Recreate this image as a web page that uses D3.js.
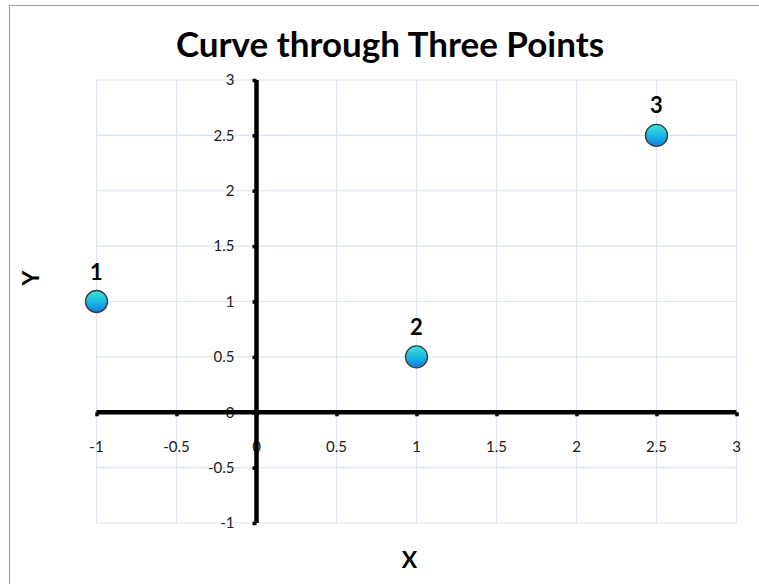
<!DOCTYPE html>
<html>
<head>
<meta charset="utf-8">
<script src="https://d3js.org/d3.v7.min.js"></script>
<style>
  html, body { margin: 0; padding: 0; background: #fff; }
  svg { display: block; font-family: Lato, "Open Sans", sans-serif; }
</style>
</head>
<body>
<svg id="chart" width="759" height="584"></svg>
<script>
// Points the curve passes through
const pointLabels = ["1", "2", "3"];
const xValues = [-1, 1, 2.5];
const yValues = [1, 0.5, 2.5];

// Axis ticks
const xTicks = [-1, -0.5, 0, 0.5, 1, 1.5, 2, 2.5, 3];
const yTicks = [-1, -0.5, 0, 0.5, 1, 1.5, 2, 2.5, 3];

const title = "Curve through Three Points";
const xTitle = "X";
const yTitle = "Y";

const svg = d3.select("#chart");
const W = 759, H = 584;

// Chart frame
svg.append("rect")
  .attr("x", 9.5).attr("y", 5.5)
  .attr("width", W + 10).attr("height", H + 10)
  .attr("fill", "#fff").attr("stroke", "#a6a6a6").attr("stroke-width", 1.2);

const x = d3.scaleLinear().domain([-1, 3]).range([96.5, 736.5]);
const y = d3.scaleLinear().domain([-1, 3]).range([523, 80]);

const defs = svg.append("defs");
const grad = defs.append("linearGradient")
  .attr("id", "ball").attr("x1", 0).attr("y1", 0).attr("x2", 0).attr("y2", 1);
grad.append("stop").attr("offset", "0%").attr("stop-color", "#44e0d4");
grad.append("stop").attr("offset", "50%").attr("stop-color", "#1cbbe0");
grad.append("stop").attr("offset", "100%").attr("stop-color", "#0a7fe0");

// Gridlines
const grid = svg.append("g").attr("stroke", "#dbe5f1").attr("stroke-width", 1.2);
grid.selectAll(".gx").data(xTicks).join("line")
  .attr("x1", d => x(d)).attr("x2", d => x(d))
  .attr("y1", y(3)).attr("y2", y(-1));
grid.selectAll(".gy").data(yTicks).join("line")
  .attr("x1", x(-1)).attr("x2", x(3))
  .attr("y1", d => y(d)).attr("y2", d => y(d));

// Tick labels (plain hyphen for negatives)
const labelFont = "15px";
svg.append("g").selectAll("text").data(yTicks).join("text")
  .attr("x", x(0) - 22).attr("y", d => y(d))
  .attr("dy", "0.35em").attr("text-anchor", "end")
  .attr("font-size", labelFont).attr("fill", "#1a1a1a")
  .text(d => String(d));
svg.append("g").selectAll("text").data(xTicks).join("text")
  .attr("x", d => x(d)).attr("y", y(0) + 40)
  .attr("text-anchor", "middle")
  .attr("font-size", labelFont).attr("fill", "#1a1a1a")
  .text(d => String(d));

// Axes through the origin, heavy black
const xAxis = d3.axisBottom(x).tickValues(xTicks).tickSize(4).tickFormat("");
const yAxis = d3.axisLeft(y).tickValues(yTicks).tickSize(4).tickFormat("");
const gx = svg.append("g").attr("transform", `translate(0,${y(0)})`).call(xAxis);
const gy = svg.append("g").attr("transform", `translate(${x(0)},0)`).call(yAxis);
[gx, gy].forEach(g => {
  g.select(".domain").attr("stroke", "#000").attr("stroke-width", 4.5);
  g.selectAll(".tick line").attr("stroke", "#000").attr("stroke-width", 3.5);
});
gx.select(".domain").attr("d", `M${x(-1)},0H${x(3)}`);
gy.select(".domain").attr("d", `M0,${y(-1)}V${y(3)}`);

// Points
svg.append("g").selectAll("circle").data(xValues).join("circle")
  .attr("cx", d => x(d)).attr("cy", (d, i) => y(yValues[i]))
  .attr("r", 11)
  .attr("fill", "url(#ball)").attr("stroke", "#3a3a3a").attr("stroke-width", 1.3);

svg.append("g").selectAll("text").data(pointLabels).join("text")
  .attr("x", (d, i) => x(xValues[i])).attr("y", (d, i) => y(yValues[i]) - 22)
  .attr("text-anchor", "middle").attr("font-size", "22px").attr("font-weight", "bold")
  .attr("fill", "#000")
  .text(d => d);

// Titles
svg.append("text").attr("x", 390).attr("y", 57)
  .attr("text-anchor", "middle").attr("font-size", "35px").attr("font-weight", "bold")
  .text(title);
svg.append("text").attr("x", 409.5).attr("y", 568)
  .attr("text-anchor", "middle").attr("font-size", "23px").attr("font-weight", "bold")
  .text(xTitle);
svg.append("text").attr("transform", "translate(39,278) rotate(-90)")
  .attr("text-anchor", "middle").attr("font-size", "23px").attr("font-weight", "bold")
  .text(yTitle);
</script>
</body>
</html>
